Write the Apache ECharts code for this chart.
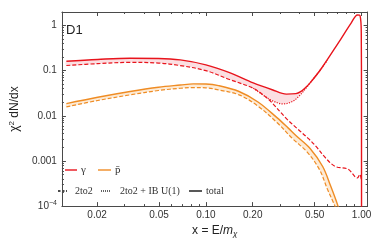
<!DOCTYPE html>
<html>
<head>
<meta charset="utf-8">
<script src="https://cdn.jsdelivr.net/npm/echarts@6/dist/echarts.min.js"></script>
<style>html,body{margin:0;padding:0;background:#fff}#c{width:374px;height:243px}</style>
</head>
<body>
<div id="c"></div>
<script>
// ---- data (x = E/m_chi, y = x^2 dN/dx) ----
const gammaTotal = [[0.0127,0.1614],[0.0202,0.1765],[0.0326,0.1874],[0.0496,0.1855],[0.0685,0.1721],[0.1,0.1341],[0.1419,0.0901],[0.2015,0.0534],[0.2667,0.0377],[0.3291,0.0301],[0.3786,0.0308],[0.4062,0.0341],[0.4355,0.0416],[0.4672,0.0534],[0.5505,0.1099],[0.7114,0.416],[0.857,1.127],[0.9414,1.704],[0.9779,1.646],[0.9959,0.695],[0.999,0.02],[1.0,0.000001]];
const gamma2to2 = [[0.0127,0.1296],[0.0202,0.1425],[0.0326,0.1520],[0.0496,0.1468],[0.0685,0.1290],[0.1,0.0995],[0.1419,0.0635],[0.2015,0.0406],[0.2384,0.0272],[0.2667,0.0192],[0.3291,0.00866],[0.3879,0.00513],[0.4563,0.00311],[0.5133,0.00204],[0.5904,0.00114],[0.6792,0.000752],[0.8185,0.000658],[0.9414,0.00042],[0.9752,0.000505],[0.9959,0.000394]];
const gammaIB = [[0.2015,0.0406],[0.2384,0.0272],[0.2667,0.0215],[0.3143,0.0183],[0.3614,0.0209],[0.3965,0.0272],[0.4236,0.0349],[0.4542,0.0471],[0.4805,0.0605],[0.5505,0.1099],[0.6039,0.17]];
const pbarTotal = [[0.0127,0.01855],[0.0202,0.02565],[0.0326,0.0344],[0.0496,0.0427],[0.0685,0.0478],[0.083,0.0508],[0.1,0.0503],[0.1205,0.0464],[0.1633,0.0344],[0.2162,0.0202],[0.286,0.0091],[0.3372,0.00539],[0.3786,0.00365],[0.4672,0.00189],[0.5628,0.000752],[0.6333,0.000278],[0.7045,0.0001025],[0.7632,0.0000418]];
const pbar2to2 = [[0.0127,0.01574],[0.0202,0.02176],[0.0326,0.0290],[0.0496,0.0362],[0.0685,0.0406],[0.083,0.0420],[0.1,0.0416],[0.1205,0.0373],[0.1633,0.0290],[0.2162,0.0163],[0.286,0.00709],[0.3614,0.00308],[0.4461,0.00159],[0.5375,0.000639],[0.6039,0.000236],[0.6727,0.0001025],[0.7317,0.0000485]];

const xTickVals = [0.02, 0.05, 0.1, 0.2, 0.5, 1.0];
const xTickLabels = ['0.02', '0.05', '0.10', '0.20', '0.50', '1.00'];
const xMinorVals = [0.03,0.04,0.06,0.07,0.08,0.09,0.3,0.4,0.6,0.7,0.8,0.9];
const yTickVals = [1e-4, 1e-3, 1e-2, 0.1, 1];
const yTickLabels = ['10{s|\u22124}', '0.001', '0.01', '0.1', '1'];
const yMinorVals = [];
[1e-4,1e-3,1e-2,1e-1].forEach(d => { for (let k = 2; k <= 9; k++) yMinorVals.push(k*d); });

const X_MIN = 0.01189, X_MAX = 1.094, Y_MIN = 1e-4, Y_MAX = 1.98;

const RED = '#e8141c', ORANGE = '#ef8c24', PINK = '#fbdfe2', PEACH = '#fdebd6';
const FRAME = '#4a4a4a';
const L = v => Math.log10(v);

function fmt(vals, labels) {
  return function (v) {
    for (let i = 0; i < vals.length; i++) if (Math.abs(L(vals[i]) - v) < 1e-6) return labels[i];
    return '';
  };
}

const chart = echarts.init(document.getElementById('c'), null, {renderer: 'canvas'});

function tickAxis(isX, pos, vals, len, line, label) {
  const ax = {
    type: 'value', position: pos,
    min: isX ? L(X_MIN) : L(Y_MIN), max: isX ? L(X_MAX) : L(Y_MAX),
    axisLine: {show: line, onZero: false, lineStyle: {color: FRAME, width: 1}},
    axisTick: {show: true, inside: true, length: len, customValues: vals.map(L), lineStyle: {color: FRAME, width: 1}},
    axisLabel: {show: false},
    splitLine: {show: false}
  };
  if (label) {
    ax.axisLabel = {
      show: true, customValues: vals.map(L), formatter: fmt(vals, label),
      fontSize: 10, color: '#333', fontFamily: 'Liberation Sans', margin: isX ? 4 : 5,
      rich: {s: {fontSize: 7, verticalAlign: 'top', padding: [0,0,6,0], color: '#333', fontFamily: 'Liberation Sans'}}
    };
  }
  return ax;
}

const xb = tickAxis(true, 'bottom', xTickVals, 4, true, xTickLabels);
xb.name = 'x = E/{i|m}{sub|\u03c7}';
xb.nameLocation = 'middle';
xb.nameGap = 13;
xb.nameTextStyle = {fontSize: 12, color: '#222', fontFamily: 'Liberation Sans',
  rich: {i: {fontSize: 12, fontStyle: 'italic', fontFamily: 'Liberation Sans', color: '#222'},
         sub: {fontSize: 8, fontStyle: 'italic', fontFamily: 'Liberation Sans', color: '#222', padding: [6,0,0,0]}}};

const yl = tickAxis(false, 'left', yTickVals, 4, true, yTickLabels);
yl.name = '\u03c7{sup|2} dN/dx';
yl.nameLocation = 'middle';
yl.nameGap = 35;
yl.nameTextStyle = {fontSize: 12, color: '#222', fontFamily: 'Liberation Sans',
  rich: {sup: {fontSize: 8, fontFamily: 'Liberation Sans', color: '#222', padding: [0,0,6,0]}}};

function band(upper, lower, fill) {
  return {
    type: 'custom', coordinateSystem: 'cartesian2d', xAxisIndex: 0, yAxisIndex: 0,
    data: [[0.1, 0.1]], z: 1, silent: true,
    renderItem: function (params, api) {
      const pts = upper.map(p => api.coord(p)).concat(lower.slice().reverse().map(p => api.coord(p)));
      return {type: 'polygon', shape: {points: pts, smooth: 0.3}, style: {fill: fill}};
    }
  };
}

function line(data, color, dash, width, z) {
  return {
    type: 'line', data: data, xAxisIndex: 0, yAxisIndex: 0, showSymbol: false, symbol: 'none',
    smooth: 0.35, clip: true, z: z || 3, silent: true,
    lineStyle: {color: color, width: width || 1.4, type: dash || 'solid'}
  };
}

const redUpper = gammaTotal.filter(p => p[0] <= 0.4672).concat([[0.4805, 0.0605]]);
const redLower = gamma2to2.filter(p => p[0] < 0.2384).concat(gammaIB.filter(p => p[0] >= 0.2384 && p[0] <= 0.4805));
const orUpper = pbarTotal.filter(p => p[0] <= 0.7045);
const orLower = pbar2to2.filter(p => p[0] <= 0.6727);

const legendY1 = 170, legendY2 = 191;
const serif = 'Liberation Serif';

chart.setOption({
  animation: false,
  backgroundColor: '#fff',
  grid: {left: 48, top: 12, right: 3.3, bottom: 32.3, containLabel: false},
  xAxis: [
    {type: 'log', logBase: 10, min: X_MIN, max: X_MAX, show: false},
    xb,
    tickAxis(true, 'bottom', xMinorVals, 2, false, null),
    tickAxis(true, 'top', xTickVals, 4, true, null),
    tickAxis(true, 'top', xMinorVals, 2, false, null)
  ],
  yAxis: [
    {type: 'log', logBase: 10, min: Y_MIN, max: Y_MAX, show: false},
    yl,
    tickAxis(false, 'left', yMinorVals, 2, false, null),
    tickAxis(false, 'right', yTickVals, 4, true, null),
    tickAxis(false, 'right', yMinorVals, 2, false, null)
  ],
  series: [
    band(redUpper, redLower, PINK),
    band(orUpper, orLower, PEACH),
    line(pbar2to2, ORANGE, [4, 2], 1.2),
    line(pbarTotal, ORANGE, 'solid', 1.4),
    line(gammaIB, RED, [1.2, 1.3], 1.2),
    line(gamma2to2, RED, [4, 2], 1.2),
    line(gammaTotal, RED, 'solid', 1.4, 4)
  ],
  graphic: [
    {type: 'text', left: 66, top: 24, style: {text: 'D1', fontSize: 13, fontFamily: 'Liberation Sans', fill: '#222'}},
    {type: 'line', shape: {x1: 65, y1: legendY1, x2: 77, y2: legendY1}, style: {stroke: RED, lineWidth: 1.4}},
    {type: 'text', x: 81, y: legendY1, style: {text: '\u03b3', fontSize: 11, fontFamily: serif, fill: '#333', verticalAlign: 'middle'}},
    {type: 'line', shape: {x1: 98, y1: legendY1, x2: 111, y2: legendY1}, style: {stroke: ORANGE, lineWidth: 1.4}},
    {type: 'text', x: 115, y: legendY1, style: {text: 'p\u0304', fontSize: 11, fontFamily: serif, fill: '#333', verticalAlign: 'middle'}},
    {type: 'line', shape: {x1: 58, y1: legendY2, x2: 67, y2: legendY2}, style: {stroke: '#111', lineWidth: 1.3, lineDash: [2.5, 1.5]}},
    {type: 'text', x: 75, y: legendY2, style: {text: '2to2', fontSize: 10, fontFamily: serif, fill: '#333', verticalAlign: 'middle'}},
    {type: 'line', shape: {x1: 101, y1: legendY2, x2: 111, y2: legendY2}, style: {stroke: '#111', lineWidth: 1.3, lineDash: [1, 1]}},
    {type: 'text', x: 120, y: legendY2, style: {text: '2to2 + IB U(1)', fontSize: 10, fontFamily: serif, fill: '#333', verticalAlign: 'middle'}},
    {type: 'line', shape: {x1: 189, y1: legendY2, x2: 202, y2: legendY2}, style: {stroke: '#111', lineWidth: 1.4}},
    {type: 'text', x: 206, y: legendY2, style: {text: 'total', fontSize: 10, fontFamily: serif, fill: '#333', verticalAlign: 'middle'}}
  ]
});
</script>
</body>
</html>
